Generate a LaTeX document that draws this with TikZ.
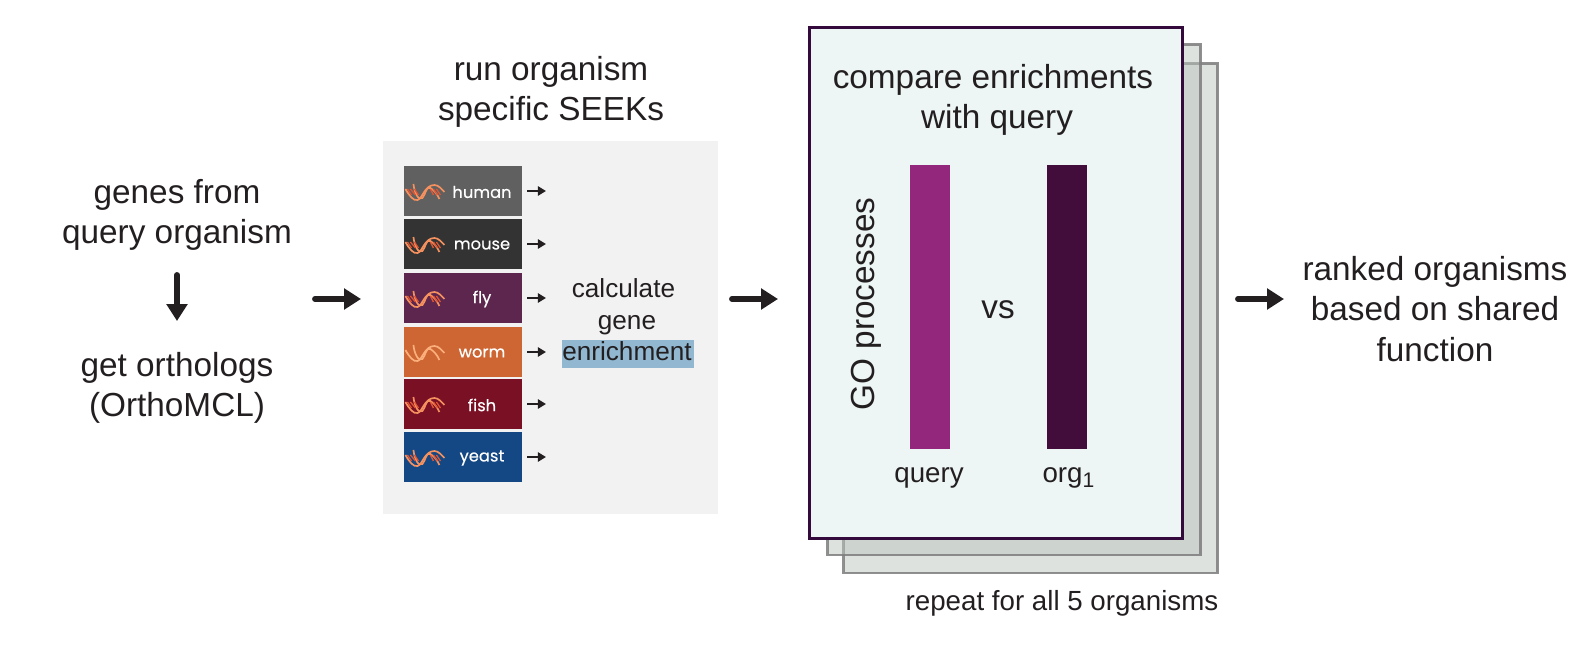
\documentclass[tikz,border=0pt]{standalone}
\usepackage{fontspec}
\setmainfont{Liberation Sans}
\newfontfamily\orgfont[FakeBold=0.25]{Poppins}
\usetikzlibrary{arrows.meta,calc,positioning}
\definecolor{fg}{RGB}{35,31,32}
\definecolor{panel}{RGB}{242,242,242}
\definecolor{front}{RGB}{237,246,245}
\definecolor{sheetfill}{RGB}{188,197,191}
\definecolor{edge}{RGB}{125,125,125}
\definecolor{frontedge}{RGB}{52,10,60}
\definecolor{querybar}{RGB}{146,39,124}
\definecolor{orgbar}{RGB}{66,13,58}
\definecolor{hilite}{RGB}{146,183,209}
\definecolor{dnaorange}{RGB}{245,145,95}
\definecolor{dnalight}{RGB}{250,175,125}
\definecolor{dnarung}{RGB}{225,85,50}
\definecolor{human}{RGB}{96,96,96}
\definecolor{mouse}{RGB}{51,51,51}
\definecolor{fly}{RGB}{92,38,78}
\definecolor{worm}{RGB}{206,102,51}
\definecolor{fish}{RGB}{122,16,36}
\definecolor{yeast}{RGB}{20,72,132}
\tikzset{
  every picture/.style={fg, line cap=butt, line join=miter},
  % text
  big/.style={font=\fontsize{11.85}{14.4}\selectfont, align=center, text=fg, inner sep=0pt},
  small/.style={font=\fontsize{9.85}{11.2}\selectfont, align=center, text=fg, inner sep=0pt},
  side/.style={font=\fontsize{9.3}{11.2}\selectfont, align=center, text=fg, inner sep=0pt},
  % arrows
  step arrow/.style={line width=2.1pt, line cap=round, -{Triangle[length=6pt,width=7.2pt]}},
  tiny arrow/.style={line width=1.05pt, -{Triangle[length=2.9pt,width=3.3pt]}},
  % sheets
  sheet/.style={line width=1.05pt, draw=edge, draw opacity=0.85, fill=sheetfill, fill opacity=0.5},
  orgbox/.style={minimum width=118*0.0125cm, minimum height=50*0.0125cm, inner sep=0pt},
  orglabel/.style={text=white, font=\orgfont\fontsize{5.8}{7}\selectfont, inner sep=0pt},
  strand/.style={line width=0.6pt},
  rung/.style={dnarung, line width=0.45pt},
}
% logo on the organism boxes, origin at left middle of the box
\newcommand{\dnalogo}[2]{
  \begin{scope}[shift={(#1)}]
    \draw[strand, #2] (2,-2) .. controls (6,5) and (10,10) .. (14,9)
      .. controls (19,8) and (21,-6) .. (31,-6) .. controls (35,-6) and (38,-2) .. (41,1);
    \draw[strand, #2] (10,-7) .. controls (11,2) and (15,10) .. (19,7)
      .. controls (22,4) and (23,-6) .. (27,-3) .. controls (30,-1) and (34,3) .. (36,8);
  \end{scope}
}
\begin{document}
\begin{tikzpicture}[x=0.0125cm, y=-0.0125cm]
  \useasboundingbox (0,0) rectangle (1594,650);
  % left column
  \node[big] (genes) at (177,215) {genes from\\query organism};
  \node[big] (orthologs) at (177,388) {get orthologs\\(OrthoMCL)};
  \coordinate (downa) at (177,275);
  \coordinate (downb) at (177,321);
  \draw[step arrow] (downa) -- (downb);
  \coordinate (arrowa) at (315,299);
  \coordinate (arrowb) at (361,299);
  \draw[step arrow] (arrowa) -- (arrowb);
  % organism panel
  \node[big] (seek) at (551,92) {run organism\\specific SEEKs};
  \fill[panel] (383,141) rectangle (718,514);
  \foreach \org/\y/\tone in {human/191/dnaorange, mouse/244/dnaorange, fly/298/dnaorange, worm/352/dnalight, fish/404/dnaorange, yeast/457/dnaorange} {
    \node[orgbox, fill=\org] (\org) at (463,\y) {};
    \node[orglabel] (\org text) at (482,\y+1) {\org};
    \dnalogo{\org.west}{\tone}
    \coordinate (\org a) at (527,\y);
    \coordinate (\org b) at (546,\y);
    \draw[tiny arrow] (\org a) -- (\org b);
  }
  % rungs, the worm logo has none
  \foreach \org in {human,mouse,fly,fish,yeast} {
    \begin{scope}[shift={(\org.west)}]
      \foreach \x/\u in {4/8, 7/12, 11/15, 27/30, 30/34, 33/37}
        \draw[rung] (\x,-2) -- (\u,4);
    \end{scope}
  }
  \fill[hilite] (562,340) rectangle (694,368);
  \node[side] (calc) at (627,320) {calculate\hspace*{2.5pt}\\gene\\enrichment};
  \coordinate (arrowc) at (732,299);
  \coordinate (arrowd) at (778,299);
  \draw[step arrow] (arrowc) -- (arrowd);
  % stacked sheets
  \path[sheet] (843.5,63.5) rectangle (1217.5,573);
  \path[sheet] (827.5,44.5) rectangle (1200.5,555);
  \draw[line width=1.05pt, frontedge, fill=front] (809.5,27.5) rectangle (1182.5,538.5);
  \node[big] (compare) at (993,100) {compare enrichments\\\hspace*{2.9pt}with query};
  \fill[querybar] (910,165) rectangle (950,449);
  \fill[orgbar] (1047,165) rectangle (1087,449);
  \node[big, rotate=90] (goproc) at (866,304) {GO processes};
  \node[big] (vs) at (998,310) {vs};
  \node[small] (query) at (929,478) {query};
  \node[small, anchor=base west] (orgone) at (1042,483) {org\raisebox{-0.32ex}{\fontsize{7.5}{8}\selectfont 1}};
  \node[small] (repeat) at (1062,603) {repeat for all 5 organisms};
  % result
  \coordinate (arrowe) at (1238,299);
  \coordinate (arrowf) at (1284,299);
  \draw[step arrow] (arrowe) -- (arrowf);
  \node[big] (ranked) at (1435,309) {ranked organisms\\based on shared\\function};
\end{tikzpicture}
\end{document}
